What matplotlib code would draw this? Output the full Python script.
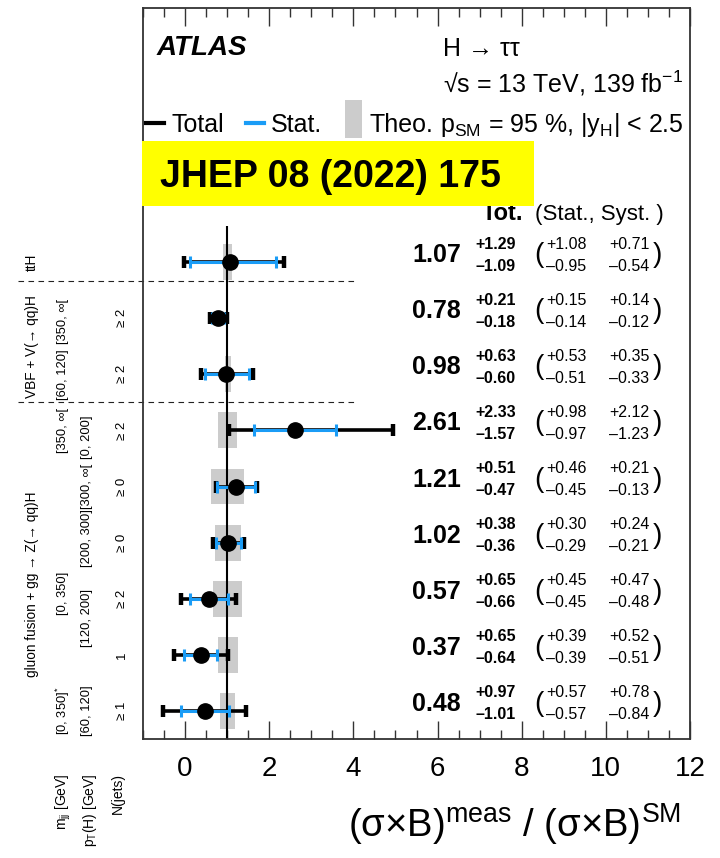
import matplotlib
matplotlib.use('Agg')
import matplotlib.pyplot as plt
from matplotlib.lines import Line2D
from matplotlib.patches import Patch, Rectangle
from matplotlib.legend_handler import HandlerPatch
import matplotlib.transforms as mtransforms
from matplotlib.ticker import MultipleLocator

plt.rcParams['font.family'] = ['Liberation Sans', 'DejaVu Sans']
plt.rcParams['mathtext.fontset'] = 'custom'
plt.rcParams['mathtext.rm'] = 'Liberation Sans'
plt.rcParams['mathtext.it'] = 'Liberation Sans:italic'
plt.rcParams['mathtext.bf'] = 'Liberation Sans:bold'

# ---------------- data (rows listed top to bottom) ----------------
values = [1.07, 0.78, 0.98, 2.61, 1.21, 1.02, 0.57, 0.37, 0.48]
tot_up = [1.29, 0.21, 0.63, 2.33, 0.51, 0.38, 0.65, 0.65, 0.97]
tot_dn = [1.09, 0.18, 0.60, 1.57, 0.47, 0.36, 0.66, 0.64, 1.01]
stat_up = [1.08, 0.15, 0.53, 0.98, 0.46, 0.30, 0.45, 0.39, 0.57]
stat_dn = [0.95, 0.14, 0.51, 0.97, 0.45, 0.29, 0.45, 0.39, 0.57]
syst_up = [0.71, 0.14, 0.35, 2.12, 0.21, 0.24, 0.47, 0.52, 0.78]
syst_dn = [0.54, 0.12, 0.33, 1.23, 0.13, 0.21, 0.48, 0.51, 0.84]
theo_up = [0.12, 0.03, 0.08, 0.24, 0.40, 0.32, 0.36, 0.25, 0.18]
theo_dn = [0.10, 0.03, 0.06, 0.22, 0.38, 0.30, 0.34, 0.22, 0.16]
sm_value = 1.0

proc_labels = ['ttH', 'VBF + V(→ qq)H', 'gluon fusion + gg → Z(→ qq)H']
mjj_labels = ['[350, ∞[', '[60, 120]', '[350, ∞[', '[0, 350]', r'[0, 350]$^{*}$']
pt_labels = ['[0, 200]', '[300, ∞[', '[200, 300]', '[120, 200]', '[60, 120]']
njet_labels = ['≥ 2', '≥ 2', '≥ 2', '≥ 0', '≥ 0', '≥ 2', '1', '≥ 1']
njet_rows = [1, 2, 3, 4, 5, 6, 7, 8]
header_labels = [r'm$_{\mathrm{jj}}$ [GeV]', r'p$_{\mathrm{T}}$(H) [GeV]', 'N(jets)']
xticks = [0, 2, 4, 6, 8, 10, 12]
legend_labels = ['Total', 'Stat.', 'Theo.']

# vertical placement of the left-hand category labels (y in data units)
proc_y = [8.5, 7.0, 2.75]
mjj_y = [7.45, 6.5, 5.5, 2.6, 0.5]
pt_y = [5.38, 4.5, 3.58, 2.15, 0.5]

BLUE = '#1a9cf6'
GREY = '#cccccc'

W, H = 720, 858
def fx(p):
    return p / W
def fy(p):
    return 1 - p / H

fig = plt.figure(figsize=(7.2, 8.58), dpi=100)
ax = fig.add_axes([fx(143), fy(739), (690 - 143) / W, (739 - 8) / H])
n = len(values)
ypos = [n - 0.5 - i for i in range(n)]

ax.set_xlim(-1, 12)
ax.set_ylim(0, 13.03)

# theory boxes
ax.barh(ypos, [u + d for u, d in zip(theo_up, theo_dn)],
        left=[sm_value - d for d in theo_dn], height=0.64, color=GREY, zorder=1)
# SM line
ax.vlines(sm_value, 0, 9.14, color='black', lw=1.5, zorder=2)
# total error
ax.errorbar(values, ypos, xerr=[tot_dn, tot_up], fmt='none', ecolor='black',
            elinewidth=2.6, capsize=4.3, capthick=3.2, zorder=3)
# stat error
ax.errorbar(values, ypos, xerr=[stat_dn, stat_up], fmt='none', ecolor=BLUE,
            elinewidth=2.2, capsize=4.3, capthick=2.2, zorder=4)
ax.plot(values, ypos, 'o', color='black', ms=11, zorder=5)

# separators
for ysep in [8.16, 6.0]:
    ax.plot([-3.97, 4.05], [ysep, ysep], ls=(0, (5, 4)), color='#222222',
            lw=0.8, clip_on=False, zorder=2)

# axes styling
ax.set_xticks(xticks)
ax.xaxis.set_minor_locator(MultipleLocator(0.5))
ax.tick_params(axis='x', which='major', direction='in', length=13, width=1.0,
               top=True, labelsize=20, pad=12, color='#333333')
ax.tick_params(axis='x', which='minor', direction='in', length=6.5, width=1.0,
               top=True, color='#333333')
ax.set_yticks([])
for s in ax.spines.values():
    s.set_linewidth(1.3)
    s.set_color('#333333')
ax.set_xlabel(r'(σ×B)$^{\mathrm{meas}}$ / (σ×B)$^{\mathrm{SM}}$', fontsize=27.5)
ax.xaxis.set_label_coords(0.984, -0.085)
ax.xaxis.label.set_ha('right')

# numbers column
tr = mtransforms.blended_transform_factory(fig.transFigure, ax.transData)
for i, y in enumerate(ypos):
    ax.text(fx(461), y, f'{values[i]:.2f}', transform=tr, ha='right', va='baseline',
            fontsize=18, fontweight='bold')
    ax.text(fx(475), y + 0.24, f'+{tot_up[i]:.2f}', transform=tr, ha='left',
            va='baseline', fontsize=11.5, fontweight='bold')
    ax.text(fx(475), y - 0.15, f'\u2013{tot_dn[i]:.2f}', transform=tr, ha='left',
            va='baseline', fontsize=11.5, fontweight='bold')
    ax.text(fx(534), y, '(', transform=tr, ha='left', va='baseline', fontsize=20)
    ax.text(fx(546), y + 0.24, f'+{stat_up[i]:.2f}', transform=tr, ha='left',
            va='baseline', fontsize=11.5)
    ax.text(fx(546), y - 0.15, f'\u2013{stat_dn[i]:.2f}', transform=tr, ha='left',
            va='baseline', fontsize=11.5)
    ax.text(fx(609), y + 0.24, f'+{syst_up[i]:.2f}', transform=tr, ha='left',
            va='baseline', fontsize=11.5)
    ax.text(fx(609), y - 0.15, f'\u2013{syst_dn[i]:.2f}', transform=tr, ha='left',
            va='baseline', fontsize=11.5)
    ax.text(fx(662), y, ')', transform=tr, ha='right', va='baseline', fontsize=20)

fig.text(fx(482), fy(220), 'Tot.', fontsize=17, fontweight='bold', va='baseline')
fig.text(fx(535), fy(220), '(Stat., Syst. )', fontsize=16, va='baseline')

# left-hand labels
proc_fs = 9.8
bin_fs = 9.3
for lab, y in zip(proc_labels, proc_y):
    ax.text(fx(32), y, lab, transform=tr, rotation=90,
            ha='center', va='center', fontsize=proc_fs)
for lab, y in zip(mjj_labels, mjj_y):
    ax.text(fx(63), y, lab, transform=tr, rotation=90,
            ha='center', va='center', fontsize=bin_fs)
for lab, y in zip(pt_labels, pt_y):
    ax.text(fx(87), y, lab, transform=tr, rotation=90,
            ha='center', va='center', fontsize=bin_fs)
for lab, r in zip(njet_labels, njet_rows):
    ax.text(fx(122), ypos[r], lab, transform=tr, rotation=90,
            ha='center', va='center', fontsize=9.5)
for lab, xp in zip(header_labels, [63, 90, 118]):
    fig.text(fx(xp), fy(773), lab, rotation=90, ha='center', va='top', fontsize=10)

# top texts
fig.text(fx(157), fy(55), 'ATLAS', fontsize=20, fontweight='bold', style='italic',
         va='baseline')
fig.text(fx(443), fy(56), 'H → ττ', fontsize=18, va='baseline')
fig.text(fx(443), fy(93), r'√s = 13 TeV, 139 fb$^{\mathrm{-1}}$', fontsize=18, va='baseline')
fig.text(fx(440), fy(132), r'p$_{\mathrm{SM}}$ = 95 %, |y$_{\mathrm{H}}$| < 2.5',
         fontsize=18, va='baseline')


def tall_box(legend, orig_handle, xdescent, ydescent, width, height, fontsize):
    # grey box reaching from slightly below the baseline to above the cap height
    return Rectangle((-xdescent, -4.3), width, 27.4)


handles = [Line2D([], [], color='black', lw=3),
           Line2D([], [], color=BLUE, lw=3),
           Patch(facecolor=GREY, edgecolor='none')]
ax.legend(handles, legend_labels, loc='upper left', bbox_to_anchor=(fx(146), fy(113)),
          bbox_transform=fig.transFigure, ncol=3, frameon=False, fontsize=18,
          handlelength=0.7, handleheight=0.7, handletextpad=0.3, columnspacing=0.9,
          borderpad=0, borderaxespad=0,
          handler_map={Patch: HandlerPatch(patch_func=tall_box)})

# journal banner
fig.add_artist(Rectangle((fx(142), fy(206)), (534 - 142) / W, (206 - 141) / H,
                         transform=fig.transFigure, facecolor='#ffff00',
                         edgecolor='none', zorder=10))
fig.text(fx(160), fy(187), 'JHEP 08 (2022) 175', fontsize=27, fontweight='bold',
         va='baseline', zorder=11)

fig.savefig('out.png', dpi=100)
